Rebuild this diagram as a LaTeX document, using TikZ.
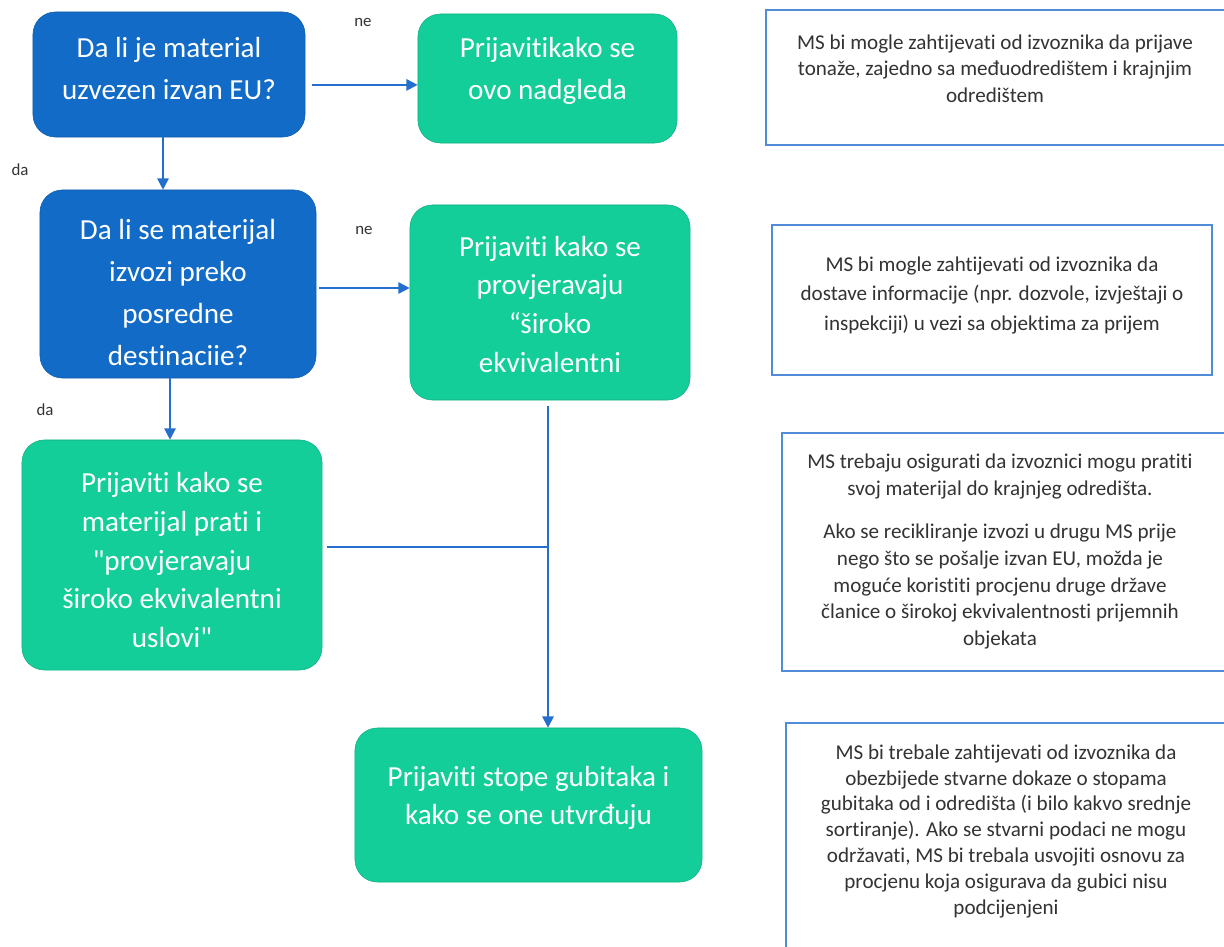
\documentclass[tikz,border=0pt]{standalone}
\usepackage{fontspec}
\setmainfont{Carlito}[Ligatures={NoCommon,TeXOff}]
\usetikzlibrary{positioning,arrows.meta}
\definecolor{qblue}{RGB}{17,107,199}
\definecolor{agreen}{RGB}{20,206,153}
\definecolor{lineblue}{RGB}{36,110,205}
\definecolor{noteblue}{RGB}{80,140,215}
\tikzset{ask/.style={draw=qblue!85!black, fill=qblue, rounded corners=16pt}}
\tikzset{ans/.style={draw=agreen!85!black, fill=agreen, rounded corners=16pt}}
\tikzset{boxtxt/.style={text=white, align=center, inner sep=0pt, font=\fontsize{20.7}{#1}\selectfont}}
\tikzset{note/.style={draw=noteblue, line width=1pt, fill=white}}
\tikzset{notetxt/.style={align=center, inner sep=0pt, text=black!80, font=\fontsize{15}{#1}\selectfont}}
\tikzset{lbl/.style={font=\fontsize{12}{12}\selectfont, text=black!80}}
\tikzset{link/.style={draw=lineblue, line width=1.4pt, -{Triangle[length=8pt,width=8pt]}}}
\tikzset{tieline/.style={draw=lineblue, line width=1.4pt}}

\begin{document}
\begin{tikzpicture}[x=0.025cm,y=-0.025cm]
  \useasboundingbox (0,0) rectangle (1224,947);
  % questions
  \node[ask, minimum width=6.8cm, minimum height=3.125cm] (q1) at (169,74.5) {};
  \node[ask, minimum width=6.9cm, minimum height=4.7cm] (q2) at (178,284) {};
  \node[boxtxt=29.9pt] (q1t) at ([yshift=0.16cm]q1.center) {Da li je material\\uzvezen izvan EU?};
  \node[boxtxt=29.7pt] (q2t) at ([yshift=-0.21cm]q2.center) {Da li se materijal\\izvozi preko\\posredne\\destinaciie?};
  % answers
  \node[ans, minimum width=6.475cm, minimum height=3.225cm] (a1) at (547.5,78.5) {};
  \node[ans, minimum width=7cm, minimum height=4.875cm] (a2) at (550,302.5) {};
  \node[ans, minimum width=7.5cm, minimum height=5.75cm] (a3) at (172,555) {};
  \node[ans, minimum width=8.675cm, minimum height=3.85cm] (a4) at (528.5,805) {};
  \node[boxtxt=29.9pt] (a1t) at ([yshift=0.19cm]a1.center) {Prijavitikako se\\ovo nadgleda};
  \node[boxtxt=27.5pt] (a2t) at ([yshift=-0.04cm]a2.center) {Prijaviti kako se\\provjeravaju\\“široko\\ekvivalentni};
  \node[boxtxt=27.7pt] (a3t) at ([yshift=-0.125cm]a3.center) {Prijaviti kako se\\materijal prati i\\"provjeravaju\\široko ekvivalentni\\uslovi"};
  \node[boxtxt=27pt] (a4t) at ([yshift=0.175cm]a4.center) {Prijaviti stope gubitaka i\\kako se one utvrđuju};
  % notes
  \node[note, minimum width=11.65cm, minimum height=3.375cm] (n1) at (999,77.5) {};
  \node[note, minimum width=11cm, minimum height=3.75cm] (n2) at (992,300) {};
  \node[note, minimum width=11.25cm, minimum height=5.95cm] (n3) at (1007,552) {};
  \node[note, minimum width=11.15cm, minimum height=5.925cm] (n4) at (1009,841.5) {};
  \node[notetxt=18.8pt, below=0.63cm of n1.north, xshift=-0.1cm] (t1) {MS bi mogle zahtijevati od izvoznika da prijave\\tonaže, zajedno sa međuodredištem i krajnjim\\odredištem};
  \node[notetxt=21pt, below=0.8cm of n2.north] (t2) {MS bi mogle zahtijevati od izvoznika da\\dostave informacije (npr. dozvole, izvještaji o\\inspekciji) u vezi sa objektima za prijem};
  \node[notetxt=19pt, below=0.53cm of n3.north, xshift=-0.175cm] (t3) {MS trebaju osigurati da izvoznici mogu pratiti\\svoj materijal do krajnjeg odredišta.\\[12pt]Ako se recikliranje izvozi u drugu MS prije\\nego što se pošalje izvan EU, možda je\\moguće koristiti procjenu druge države\\članice o širokoj ekvivalentnosti prijemnih\\objekata};
  \node[notetxt=18.4pt, below=0.55cm of n4.north, xshift=-0.075cm] (t4) {MS bi trebale zahtijevati od izvoznika da\\obezbijede stvarne dokaze o stopama\\gubitaka od i odredišta (i bilo kakvo srednje\\sortiranje). Ako se stvarni podaci ne mogu\\održavati, MS bi trebala usvojiti osnovu za\\procjenu koja osigurava da gubici nisu\\podcijenjeni};
  % labels
  \node[lbl] (ne1) at (363,22) {ne};
  \node[lbl] (ne2) at (364,230) {ne};
  \node[lbl] (da1) at (20,170) {da};
  \node[lbl] (da2) at (45,410) {da};
  % connectors
  \draw[link] ([xshift=5pt,yshift=-0.26cm]q1.east) -- ([yshift=-0.26cm]q1.east -| a1.west);
  \draw[link] ([xshift=-0.15cm]q1.south) -- ([xshift=-0.15cm]q1.south |- q2.north);
  \draw[link] ([xshift=2pt,yshift=-0.1cm]q2.east) -- ([yshift=-0.1cm]q2.east -| a2.west);
  \draw[link] ([xshift=-0.2cm]q2.south) -- ([xshift=-0.2cm]q2.south |- a3.north);
  \draw[link] ([xshift=-0.05cm,yshift=-4pt]a2.south) -- ([xshift=-0.05cm]a2.south |- a4.north);
  \draw[tieline] ([xshift=3pt,yshift=0.2cm]a3.east) -- ([xshift=-0.05cm,yshift=0.2cm]a3.east -| a2.south);
\end{tikzpicture}
\end{document}
